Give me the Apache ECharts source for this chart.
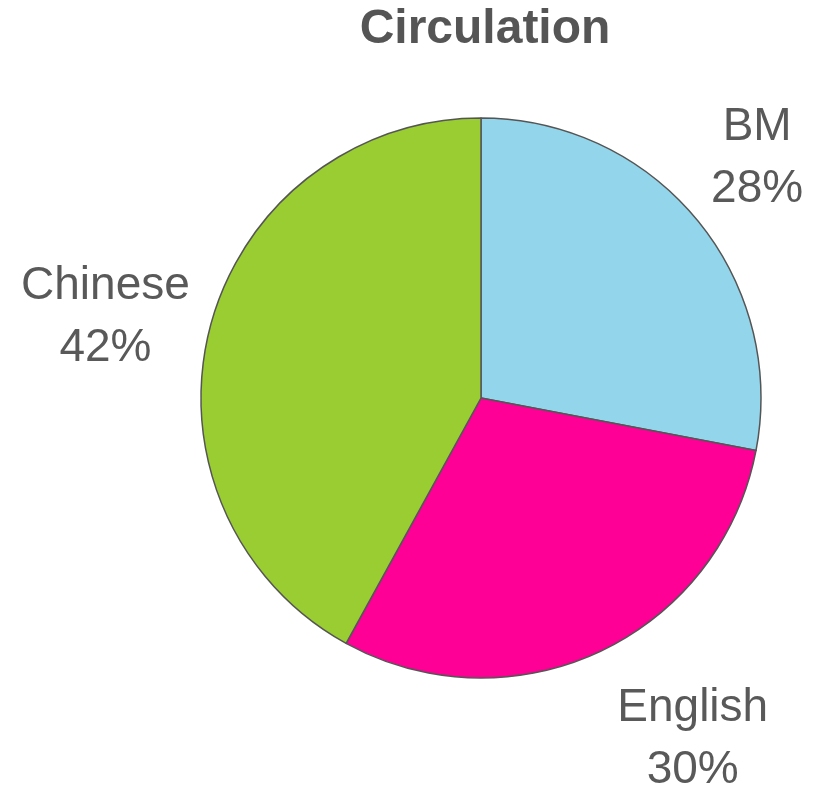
<!DOCTYPE html>
<html>
<head>
<meta charset="utf-8">
<script src="https://cdn.jsdelivr.net/npm/echarts@6/dist/echarts.min.js"></script>
<style>
html,body{margin:0;padding:0;background:#fff;}
#chart{width:824px;height:789px;}
</style>
</head>
<body>
<div id="chart"></div>
<script>
// 发行量占比
var categories = ['BM', 'English', 'Chinese'];
var values = [28, 30, 42];
var colors = ['#93D5EB', '#FF0096', '#9ACD32'];
// 标签微调偏移 (相对默认外部标签位置)
var labelShift = [[40, -48], [79, 70], [-80, -6]];

var pieData = [];
for (var i = 0; i < categories.length; i++) {
	pieData.push({ name: categories[i], value: values[i], itemStyle: { color: colors[i] } });
}

var myCharts = echarts.init(document.getElementById('chart'));
var option = {
	title: {
		text: 'Circulation',
		left: 480,
		top: 1,
		textAlign: 'center',
		textStyle: { fontFamily: 'Liberation Sans', fontSize: 48, fontWeight: 'bold', color: '#555555' }
	},
	series: [{
		type: 'pie',
		center: [481, 398],
		radius: 280,
		startAngle: 90,
		clockwise: true,
		silent: true,
		avoidLabelOverlap: false,
		data: pieData,
		itemStyle: { borderColor: '#555555', borderWidth: 1.5 },
		label: {
			show: true,
			position: 'outside',
			formatter: '{b}\n{d}%',
			fontFamily: 'Liberation Sans',
			fontSize: 46,
			lineHeight: 62,
			color: '#595959'
		},
		labelLine: { show: false, length: 20, length2: 0 },
		labelLayout: function (params) {
			var s = labelShift[params.dataIndex];
			return { align: 'center', dx: s[0], dy: s[1] };
		}
	}]
};
myCharts.setOption(option);
</script>
</body>
</html>
